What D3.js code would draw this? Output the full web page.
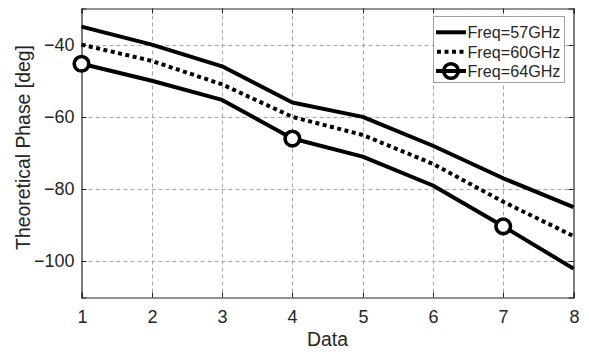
<!DOCTYPE html>
<html>
<head>
<meta charset="utf-8">
<script src="https://cdn.jsdelivr.net/npm/d3@7"></script>
<style>
  html, body { margin: 0; padding: 0; background: #fff; }
  svg { display: block; }
  text { font-family: Arial, "Liberation Sans", Helvetica, sans-serif; fill: #262626; }
</style>
</head>
<body>
<svg id="chart" width="589" height="352"></svg>
<script>
const xValues = [1, 2, 3, 4, 5, 6, 7, 8];
const freq57 = [-35, -40, -46, -56, -60, -68, -77, -85];
const freq60 = [-40, -44.5, -51, -60, -65, -73, -83.5, -93];
const freq64 = [-45.3, -50, -55.3, -66, -71, -79, -90.3, -102];
const markerIdx = [0, 3, 6];
const xTicks = [1, 2, 3, 4, 5, 6, 7, 8];
const yTicks = [-100, -80, -60, -40];
const seriesNames = ["Freq=57GHz", "Freq=60GHz", "Freq=64GHz"];
const xLabel = "Data";
const yLabel = "Theoretical Phase [deg]";

const svg = d3.select("#chart");
const L = 81.5, R = 573.5, T = 8.5, B = 297.5;
const x = d3.scaleLinear().domain([1, 8]).range([L, R]);
const y = d3.scaleLinear().domain([-110, -30]).range([B, T]);
const axisColor = "#262626";
const FF = "Arial, 'Liberation Sans', Helvetica, sans-serif";

function fitSize(str, target, base) {
  const t = svg.append("text").attr("font-size", base).attr("font-family", FF).text(str);
  const w = t.node().getComputedTextLength();
  t.remove();
  return w > 0 ? base * target / w : base;
}
const tickFS = fitSize("-100", 36, 18);
const labelFS = fitSize(yLabel, 205, 18);
const legendFS = fitSize(seriesNames[0], 93, 16);

// grid
const grid = svg.append("g");
grid.selectAll("line.gx").data(xTicks.filter(d => d > 1 && d < 8)).join("line")
  .attr("x1", d => Math.round(x(d)) + 0.5).attr("x2", d => Math.round(x(d)) + 0.5)
  .attr("y1", T).attr("y2", B)
  .attr("stroke", "#a8a8a8").attr("stroke-width", 1).attr("stroke-dasharray", "4,3");
grid.selectAll("line.gy").data(yTicks).join("line")
  .attr("y1", d => Math.round(y(d)) + 0.5).attr("y2", d => Math.round(y(d)) + 0.5)
  .attr("x1", L).attr("x2", R)
  .attr("stroke", "#a8a8a8").attr("stroke-width", 1).attr("stroke-dasharray", "4,3");

// axes (box, inward ticks)
const xAxisB = d3.axisBottom(x).tickValues(xTicks).tickSize(-5).tickPadding(13).tickFormat(d3.format("d"));
const xAxisT = d3.axisTop(x).tickValues(xTicks).tickSize(-5).tickFormat("");
const yAxisL = d3.axisLeft(y).tickValues(yTicks).tickSize(-5).tickPadding(7).tickFormat(d3.format("d"));
const yAxisR = d3.axisRight(y).tickValues(yTicks).tickSize(-5).tickFormat("");

function styleAxis(g) {
  g.select(".domain").attr("stroke", axisColor).attr("stroke-width", 1.2);
  g.selectAll(".tick line").attr("stroke", axisColor);
  g.selectAll(".tick text").attr("font-size", tickFS).attr("fill", "#262626").attr("font-family", FF);
}
svg.append("g").attr("transform", `translate(0,${B})`).call(xAxisB).call(styleAxis);
svg.append("g").attr("transform", `translate(0,${T})`).call(xAxisT).call(styleAxis);
svg.append("g").attr("transform", `translate(${L},0)`).call(yAxisL).call(styleAxis);
svg.append("g").attr("transform", `translate(${R},0)`).call(yAxisR).call(styleAxis);
svg.selectAll(".tick").attr("transform", function() {
  const t = this.getAttribute("transform");
  return t.replace(/translate\(([-\d.]+),([-\d.]+)\)/, (m, a, b) => {
    const fa = parseFloat(a), fb = parseFloat(b);
    return `translate(${fa === 0 ? 0 : Math.round(fa - 0.5) + 0.5},${fb === 0 ? 0 : Math.round(fb - 0.5) + 0.5})`;
  });
});

// series
const line = d3.line().x((d, i) => x(xValues[i])).y(d => y(d));
svg.append("path").datum(freq57).attr("d", line)
  .attr("fill", "none").attr("stroke", "#000").attr("stroke-width", 4).attr("stroke-linejoin", "round");
svg.append("path").datum(freq60).attr("d", line)
  .attr("fill", "none").attr("stroke", "#000").attr("stroke-width", 4).attr("stroke-dasharray", "4,3.5");
svg.append("path").datum(freq64).attr("d", line)
  .attr("fill", "none").attr("stroke", "#000").attr("stroke-width", 4).attr("stroke-linejoin", "round");
svg.append("g").selectAll("circle").data(markerIdx).join("circle")
  .attr("cx", i => x(xValues[i])).attr("cy", i => y(freq64[i])).attr("r", 7.3)
  .attr("fill", "#fff").attr("stroke", "#000").attr("stroke-width", 3.6);

// labels
svg.append("text").attr("x", (L + R) / 2).attr("y", 346).attr("text-anchor", "middle")
  .attr("font-size", labelFS).text(xLabel);
svg.append("text").attr("transform", `translate(${16 + 0.72 * labelFS},147.5) rotate(-90)`)
  .attr("text-anchor", "middle").attr("font-size", labelFS).text(yLabel);

// legend
const lg = svg.append("g");
lg.append("rect").attr("x", 433.5).attr("y", 16.5).attr("width", 131).attr("height", 66)
  .attr("fill", "#fff").attr("stroke", "#a0a0a0").attr("stroke-width", 1);
const rowsY = [32.3, 51.7, 71];
const styles = [{dash: null, marker: false}, {dash: "4,3.5", marker: false}, {dash: null, marker: true}];
seriesNames.forEach((name, i) => {
  const ry = rowsY[i];
  const ln = lg.append("line").attr("x1", 436).attr("x2", 466).attr("y1", ry).attr("y2", ry)
    .attr("stroke", "#000").attr("stroke-width", 4);
  if (styles[i].dash) ln.attr("stroke-dasharray", styles[i].dash).attr("x1", 437);
  if (styles[i].marker) {
    lg.append("circle").attr("cx", 451).attr("cy", ry).attr("r", 7.3)
      .attr("fill", "none").attr("stroke", "#000").attr("stroke-width", 3.6);
  }
  lg.append("text").attr("x", 467.5).attr("y", ry + 0.36 * legendFS).attr("font-size", legendFS).text(name);
});
</script>
</body>
</html>
